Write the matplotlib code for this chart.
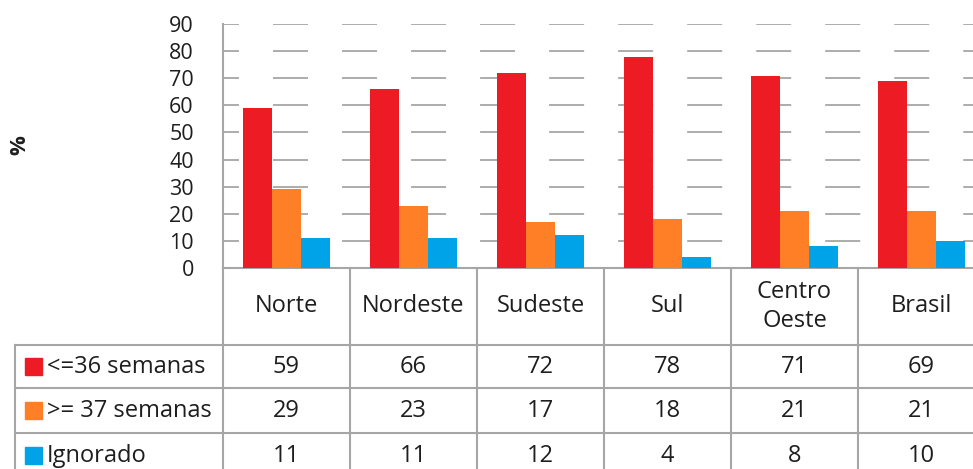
# coding: utf-8

import numpy as np
import matplotlib as mpl
import matplotlib.pyplot as plt
from matplotlib.patches import Rectangle
from matplotlib.transforms import blended_transform_factory

regioes = ['Norte', 'Nordeste', 'Sudeste', 'Sul', 'Centro\nOeste', 'Brasil']
series = ['<=36 semanas', '>= 37 semanas', 'Ignorado']
ate_36 = [59, 66, 72, 78, 71, 69]
acima_37 = [29, 23, 17, 18, 21, 21]
ignorado = [11, 11, 12, 4, 8, 10]
cores = ['#ED1C24', '#FF7F27', '#00A2E8']

mpl.rcParams['font.family'] = ['Open Sans', 'DejaVu Sans']
mpl.rcParams['lines.scale_dashes'] = False
mpl.rcParams['axes.unicode_minus'] = False

W, H = 973, 469
COR_TXT = '#1e1e1e'
COR_LINHA = '#a6a6a6'
FS = 17

fig = plt.figure(figsize=(W / 100, H / 100), dpi=100)
# eixo sai pela direita, como no original (coluna Brasil cortada)
ax = fig.add_axes([223 / W, 1 - 268 / H, 762 / W, 244 / H])

dados = [ate_36, acima_37, ignorado]
x = np.arange(len(regioes))
w = 29 / 127
for k, (vals, cor) in enumerate(zip(dados, cores)):
    ax.bar(x + (k - 1) * w, vals, w, color=cor, zorder=3)

ax.set_xlim(-0.5, len(regioes) - 0.5)
ax.set_ylim(0, 90)
ax.set_yticks(range(0, 91, 10))
ax.set_xticks([])
for t in range(10, 91, 10):
    ax.axhline(t, color=COR_LINHA, lw=1.3, linestyle=(13.7, (25.2, 24.5)), zorder=0)
ax.tick_params(axis='y', length=0, pad=21, labelsize=15.5, labelcolor=COR_TXT)
for s in ['top', 'right']:
    ax.spines[s].set_visible(False)
for s in ['left', 'bottom']:
    ax.spines[s].set_color(COR_LINHA)
    ax.spines[s].set_linewidth(1.5)

fig.text(20 / W, 1 - 145 / H, '%', rotation=90, fontsize=16, fontweight='bold',
         color=COR_TXT, ha='center', va='center')

# tabela de dados
tr = blended_transform_factory(ax.transData, fig.transFigure)


def fy(ypx):
    return 1 - ypx / H


def dx(xpx):
    return -0.5 + (xpx - 223) / 127


linhas = [268, 345, 388, 433, 478]
borda_esq = 15
kw = dict(color=COR_LINHA, lw=1.5, transform=tr, clip_on=False)

for i in range(len(regioes) + 1):
    ax.plot([i - 0.5, i - 0.5], [fy(268), fy(linhas[-1])], **kw)
ax.plot([dx(borda_esq)] * 2, [fy(linhas[1]), fy(linhas[-1])], **kw)
for y in linhas[1:-1]:
    ax.plot([dx(borda_esq), len(regioes) + 0.5], [fy(y), fy(y)], **kw)

for i, reg in enumerate(regioes):
    ax.text(i, fy((linhas[0] + linhas[1]) / 2), reg, transform=tr, ha='center',
            va='center', fontsize=FS, color=COR_TXT, linespacing=1.3)

for r, (nome, vals, cor) in enumerate(zip(series, dados, cores)):
    yc = (linhas[r + 1] + linhas[r + 2]) / 2
    for i, v in enumerate(vals):
        ax.text(i, fy(yc), str(v), transform=tr, ha='center', va='center',
                fontsize=FS, color=COR_TXT)
    fig.patches.append(Rectangle((25 / W, fy(yc + 8.5)), 17 / W, 17 / H,
                                 color=cor, transform=fig.transFigure))
    fig.text(47 / W, fy(yc), nome, ha='left', va='center', fontsize=FS,
             color=COR_TXT)

fig.savefig('out.png', dpi=100)
